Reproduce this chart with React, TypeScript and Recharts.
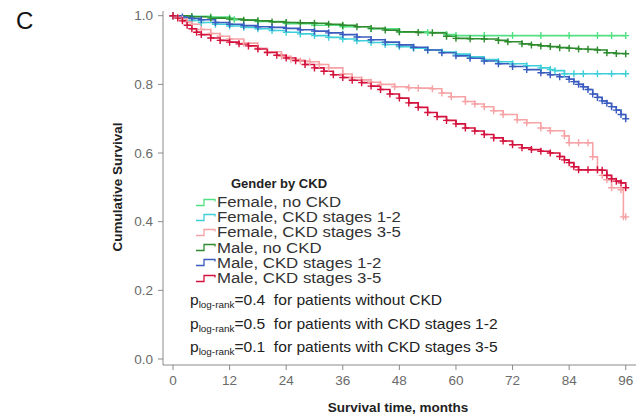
import React from 'react';
import { LineChart, Line, XAxis, YAxis } from 'recharts';

// ---- Data (months, cumulative survival) ----
const femaleNoCkdT = [0, 4, 8, 12, 13, 18, 24, 30, 36, 42, 48, 54, 58, 60, 66, 72, 78, 84, 90, 93, 96];
const femaleNoCkdS = [1.0, 0.998, 0.996, 0.993, 0.988, 0.983, 0.977, 0.972, 0.968, 0.962, 0.953, 0.951, 0.945, 0.942, 0.942, 0.942, 0.942, 0.942, 0.942, 0.942, 0.942];

const maleNoCkdT = [0, 4, 8, 12, 15, 18, 21, 24, 27, 30, 33, 36, 39, 42, 45, 48, 52, 55, 58, 60, 63, 66, 69, 71, 74, 76, 78, 80, 82, 84, 86, 88, 90, 92, 94, 96];
const maleNoCkdS = [1.0, 0.997, 0.993, 0.99, 0.987, 0.985, 0.982, 0.98, 0.979, 0.978, 0.975, 0.972, 0.968, 0.963, 0.958, 0.953, 0.951, 0.95, 0.94, 0.934, 0.933, 0.932, 0.928, 0.924, 0.918, 0.915, 0.912, 0.91, 0.907, 0.905, 0.903, 0.902, 0.9, 0.892, 0.89, 0.889];

const femaleCkd12T = [0, 2, 4, 6, 9, 12, 15, 18, 21, 24, 27, 30, 33, 36, 39, 42, 45, 48, 51, 54, 57, 60, 63, 66, 69, 72, 75, 78, 80, 81, 83, 85, 87, 90, 93, 96];
const femaleCkd12S = [1.0, 0.993, 0.986, 0.98, 0.975, 0.97, 0.966, 0.962, 0.957, 0.952, 0.947, 0.942, 0.937, 0.932, 0.927, 0.922, 0.916, 0.91, 0.905, 0.9, 0.894, 0.888, 0.88, 0.872, 0.866, 0.86, 0.854, 0.848, 0.843, 0.84, 0.831, 0.831, 0.831, 0.831, 0.831, 0.831];

const maleCkd12T = [0, 2, 4, 6, 9, 12, 15, 18, 21, 24, 27, 30, 33, 36, 39, 42, 45, 48, 51, 54, 57, 60, 63, 66, 69, 72, 75, 78, 80, 82, 84, 85, 86, 87, 88, 89, 90, 91, 92, 93, 94, 95, 96];
const maleCkd12S = [1.0, 0.996, 0.992, 0.988, 0.98, 0.975, 0.971, 0.968, 0.966, 0.963, 0.959, 0.955, 0.95, 0.945, 0.938, 0.93, 0.923, 0.915, 0.908, 0.9, 0.892, 0.883, 0.876, 0.868, 0.86, 0.852, 0.843, 0.834, 0.828, 0.822, 0.815, 0.808, 0.8, 0.793, 0.785, 0.772, 0.762, 0.752, 0.745, 0.735, 0.725, 0.712, 0.7];

const femaleCkd35T = [0, 1, 2, 3, 4, 6, 8, 10, 12, 15, 18, 20, 23, 25, 27, 29, 31, 33, 36, 38, 40, 42, 44, 47, 50, 52, 55, 57, 59, 62, 64, 66, 68, 70, 73, 75, 78, 80, 83, 84, 86, 88, 89, 90, 91, 92, 93, 95, 95.5, 96];
const femaleCkd35S = [1.0, 0.995, 0.99, 0.982, 0.975, 0.96, 0.948, 0.94, 0.932, 0.92, 0.905, 0.895, 0.882, 0.873, 0.868, 0.866, 0.858, 0.848, 0.83, 0.82, 0.813, 0.806, 0.8, 0.793, 0.79, 0.789, 0.787, 0.775, 0.764, 0.75, 0.743, 0.735, 0.723, 0.712, 0.697, 0.688, 0.673, 0.665, 0.65, 0.63, 0.63, 0.63, 0.589, 0.551, 0.535, 0.522, 0.499, 0.493, 0.414, 0.414];

const maleCkd35T = [0, 1, 2, 3, 4, 5, 6, 8, 10, 12, 14, 16, 18, 20, 22, 24, 26, 28, 30, 32, 34, 36, 38, 40, 42, 44, 46, 48, 50, 52, 54, 56, 58, 60, 62, 64, 66, 68, 70, 72, 74, 76, 78, 80, 82, 83, 84, 85, 86, 88, 90, 91, 92, 93, 94, 95, 96];
const maleCkd35S = [1.0, 0.993, 0.985, 0.972, 0.962, 0.952, 0.945, 0.935, 0.928, 0.923, 0.918, 0.912, 0.903, 0.893, 0.885, 0.877, 0.869, 0.858, 0.848, 0.838, 0.828, 0.82, 0.812, 0.805, 0.795, 0.785, 0.772, 0.76, 0.746, 0.733, 0.718, 0.706, 0.695, 0.685, 0.673, 0.664, 0.654, 0.644, 0.635, 0.624, 0.615, 0.61, 0.605, 0.6, 0.59, 0.58, 0.572, 0.56, 0.551, 0.551, 0.551, 0.55, 0.535, 0.525, 0.518, 0.513, 0.499];

const xTicks = [0, 12, 24, 36, 48, 60, 72, 84, 96];
const yTicks = [0, 0.2, 0.4, 0.6, 0.8, 1.0];

const legendLabels = [
  'Female, no CKD',
  'Female, CKD stages 1-2',
  'Female, CKD stages 3-5',
  'Male, no CKD',
  'Male, CKD stages 1-2',
  'Male, CKD stages 3-5',
];
const colors = ['#52e083', '#3fcfd8', '#f6a3a6', '#2e8b2e', '#3b5cbf', '#d3123d'];

const pValues = ['0.4', '0.5', '0.1'];
const pTexts = ['for patients without CKD', 'for patients with CKD stages 1-2', 'for patients with CKD stages 3-5'];

const build = (t: number[], s: number[]) => t.map((v, i) => ({ t: v, s: s[i] }));

const series = [
  { name: legendLabels[0], color: colors[0], data: build(femaleNoCkdT, femaleNoCkdS) },
  { name: legendLabels[3], color: colors[3], data: build(maleNoCkdT, maleNoCkdS) },
  { name: legendLabels[1], color: colors[1], data: build(femaleCkd12T, femaleCkd12S) },
  { name: legendLabels[4], color: colors[4], data: build(maleCkd12T, maleCkd12S) },
  { name: legendLabels[2], color: colors[2], data: build(femaleCkd35T, femaleCkd35S) },
  { name: legendLabels[5], color: colors[5], data: build(maleCkd35T, maleCkd35S) },
];

const Censor = (props: any) => {
  const { cx, cy, stroke, index } = props;
  if (cx == null || cy == null) return <g key={index} />;
  return (
    <path
      key={index}
      d={`M${cx - 3.5},${cy}h7M${cx},${cy - 3.5}v7`}
      stroke={stroke}
      strokeWidth={1.4}
      fill="none"
    />
  );
};

const font = 'Arial, "Liberation Sans", Helvetica, sans-serif';

export default function App() {
  return (
    <div style={{ position: 'relative', width: 644, height: 425, margin: -8, fontFamily: font, background: '#fff' }}>
      <LineChart width={644} height={417} margin={{ top: 11, right: 6, bottom: 0, left: 0 }}>
        <XAxis
          dataKey="t"
          type="number"
          domain={[-2.12, 98.6]}
          ticks={xTicks}
          allowDataOverflow
          stroke="#8a8a8a"
          tick={{ fill: '#6a6a6a', fontSize: 13.5 }}
          tickSize={5}
          tickMargin={5}
          height={52}
        />
        <YAxis
          type="number"
          domain={[-0.0175, 1.0137]}
          ticks={yTicks}
          allowDataOverflow
          stroke="#8a8a8a"
          tick={{ fill: '#6a6a6a', fontSize: 13.5 }}
          tickFormatter={(v: number) => v.toFixed(1)}
          tickSize={5}
          tickMargin={5}
          width={163}
        />
        {series.map((sr) => (
          <Line
            key={sr.name}
            data={sr.data}
            dataKey="s"
            name={sr.name}
            type="stepAfter"
            stroke={sr.color}
            strokeWidth={1.6}
            dot={<Censor />}
            activeDot={false}
            isAnimationActive={false}
          />
        ))}
      </LineChart>

      <div style={{ position: 'absolute', left: 16, top: 7, fontSize: 24, color: '#111' }}>C</div>

      <div
        style={{
          position: 'absolute', left: 117, top: 187, transform: 'translate(-50%,-50%) rotate(-90deg)',
          whiteSpace: 'nowrap', fontWeight: 'bold', fontSize: 13.5, color: '#222',
        }}
      >
        Cumulative Survival
      </div>
      <div
        style={{
          position: 'absolute', left: 398, top: 407, transform: 'translate(-50%,-50%)',
          whiteSpace: 'nowrap', fontWeight: 'bold', fontSize: 13.5, color: '#222',
        }}
      >
        Survival time, months
      </div>

      <div
        style={{
          position: 'absolute', left: 279, top: 183, transform: 'translate(-50%,-50%)',
          whiteSpace: 'nowrap', fontWeight: 'bold', fontSize: 13, color: '#222',
        }}
      >
        Gender by CKD
      </div>
      {legendLabels.map((lab, i) => (
        <div
          key={lab}
          style={{
            position: 'absolute', left: 195, top: 202 + i * 15.2, transform: 'translateY(-50%)',
            display: 'flex', alignItems: 'center', whiteSpace: 'nowrap', fontSize: 14, color: '#333', lineHeight: '15px',
          }}
        >
          <svg width={22} height={10} style={{ marginRight: 0 }}>
            <path d="M1,8H9V2H20V4" stroke={colors[i]} strokeWidth={1.3} fill="none" />
          </svg>
          <span style={{ display: 'inline-block', transform: 'scaleX(1.2)', transformOrigin: 'left center' }}>{lab}</span>
        </div>
      ))}

      {pValues.map((p, i) => (
        <div
          key={i}
          style={{
            position: 'absolute', left: 190, top: 302 + i * 23.5, transform: 'translateY(-50%) scaleX(1.04)',
            transformOrigin: 'left center',
            whiteSpace: 'nowrap', fontSize: 15, color: '#222', lineHeight: '18px',
          }}
        >
          p<sub style={{ fontSize: 9.5, verticalAlign: '-3px' }}>log-rank</sub>={p}&nbsp; {pTexts[i]}
        </div>
      ))}
    </div>
  );
}
